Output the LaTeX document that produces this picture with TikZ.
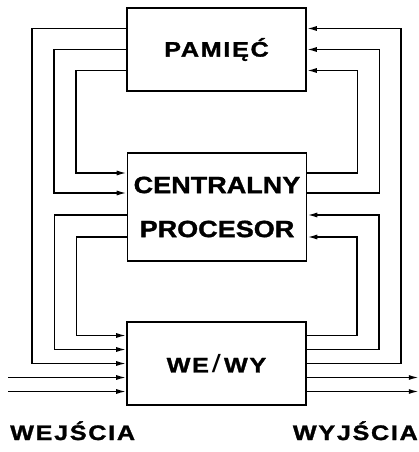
\documentclass[tikz,border=0pt]{standalone}
\usepackage{fontspec}
\newfontfamily\blockfont{Liberation Sans Bold}[FakeStretch=1.15, FakeBold=1.4]
\newfontfamily\widefont{Liberation Sans Bold}[FakeStretch=1.2, LetterSpace=8, FakeBold=1.4]
\newfontfamily\thinfont{Liberation Sans}[FakeStretch=1.3]
\usetikzlibrary{positioning, calc, arrows.meta}

\begin{document}
\begin{tikzpicture}[
  x=1pt, y=-1pt,
  box/.style={draw, line width=1.6pt, minimum width=179pt, inner sep=0pt, align=center},
  bus/.style={line width=1.5pt},
  arr/.style={bus, -{Latex[length=10pt,width=5pt]}},
  widelbl/.style={font=\widefont\fontsize{21}{25}\selectfont},
]
\useasboundingbox (0,0) rectangle (418,452);

% ---- blocks ----
\node[box, widelbl, minimum height=83pt] (mem) at (216.5,49.5) {PAMIĘĆ};
\node[box, minimum height=108pt, font=\blockfont\fontsize{23.5}{44}\selectfont] (cpu)
  at (217,207) {CENTRALNY\\PROCESOR};
\node[box, widelbl, minimum height=83pt] (io) at (216.5,363.5)
  {WE\hspace{3pt}{\thinfont\fontsize{25}{25}\selectfont /}\hspace{3pt}WY};

% ---- buses: left side goes down, right side comes back up ----
% from/to/port shift at from/port shift at to/channel distance
\foreach \a/\b/\da/\db/\dx in {mem/io/21/0/94, mem/cpu/0/14/72, mem/cpu/-21/34/50,
                                cpu/io/-8/14/72, cpu/io/-30/28/50}{
  \draw[arr] ([yshift=\da pt]\a.west) -- ++(-\dx,0) |- ([yshift=\db pt]\b.west);
  \draw[arr] ([yshift=\db pt]\b.east) -- ++(\dx,0) |- ([yshift=\da pt]\a.east);
}

% ---- inputs and outputs ----
\foreach \d [count=\k] in {-14,-28}{
  \coordinate (in\k) at ([xshift=-118pt, yshift=\d pt]io.west);
  \coordinate (out\k) at ([xshift=112pt, yshift=\d pt]io.east);
  \draw[arr] (in\k) -- ([yshift=\d pt]io.west);
  \draw[arr] ([yshift=\d pt]io.east) -- (out\k);
}

% ---- labels ----
\node[widelbl, anchor=base west, inner sep=0pt] (inlbl) at (10,440) {WEJŚCIA};
\node[widelbl, anchor=base east, inner sep=0pt] (outlbl) at (418,440) {WYJŚCIA};

\end{tikzpicture}
\end{document}
